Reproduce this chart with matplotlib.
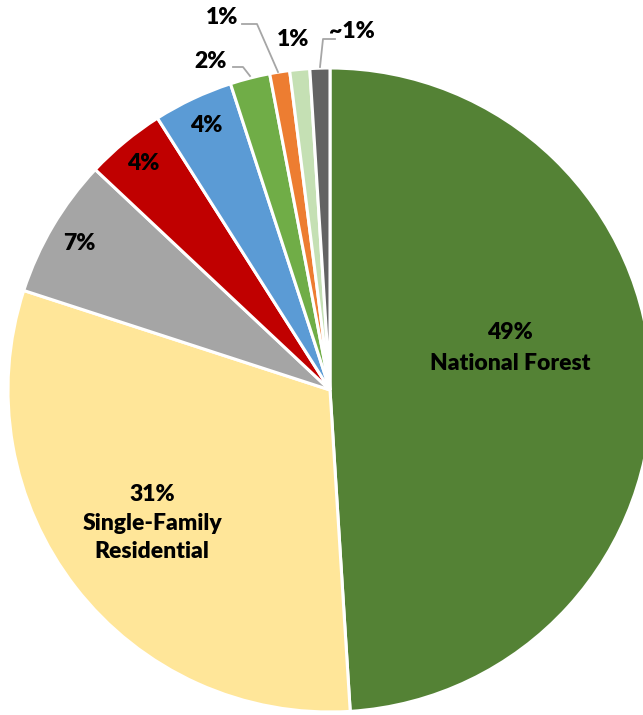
import matplotlib.pyplot as plt

# land use shares, clockwise from 12 o'clock
categories = ["National Forest", "Single-Family Residential", "Other A", "Other B",
              "Other C", "Other D", "Other E", "Other F", "Other G"]
shares = [49, 31, 7, 4, 4, 2, 1, 1, 1]
pct_labels = ["49%", "31%", "7%", "4%", "4%", "2%", "1%", "1%", "~1%"]
colors = ["#548235", "#FFE699", "#A5A5A5", "#C00000", "#5B9BD5",
          "#70AD47", "#ED7D31", "#C5E0B4", "#636363"]

W, H = 643, 715
fig = plt.figure(figsize=(W / 100, H / 100), dpi=100)
ax = fig.add_axes([0, 0, 1, 1])

cx, cy, r = 330, 390, 322
ax.pie(shares, colors=colors, startangle=90, counterclock=False,
       center=(cx, H - cy), radius=r,
       wedgeprops=dict(edgecolor="white", linewidth=2.2))

# pie() resets the limits, so fix them afterwards
ax.set_xlim(0, W)
ax.set_ylim(0, H)
ax.set_aspect("equal")
ax.axis("off")

font = dict(family=["Lato", "DejaVu Sans"], fontweight="heavy", fontsize=16.5,
            color="black", ha="center", va="center")

def px(x, y):
    return x, H - y

# labels inside the larger wedges
ax.text(*px(510, 348), pct_labels[0] + "\n" + categories[0], linespacing=1.55, **font)
ax.text(*px(152, 523), pct_labels[1] + "\nSingle-Family\nResidential", linespacing=1.45, **font)
ax.text(*px(79, 243), pct_labels[2], **font)
ax.text(*px(143, 164), pct_labels[3], **font)
ax.text(*px(206, 126), pct_labels[4], **font)

# small wedges get labels outside, some with leader lines
ax.text(*px(211, 61), pct_labels[5], **font)
ax.text(*px(222, 18), pct_labels[6], **font)
ax.text(*px(293, 39), pct_labels[7], **font)
ax.text(*px(352, 32), pct_labels[8], **font)

leaders = [
    [(233, 67), (243, 67), (250, 76)],
    [(242, 24), (257, 24), (278, 72)],
    [(335, 39), (323, 39), (320, 67)],
]
for pts in leaders:
    xs = [p[0] for p in pts]
    ys = [H - p[1] for p in pts]
    ax.plot(xs, ys, color="#A6A6A6", linewidth=1.3)

fig.savefig("out.png", dpi=100)
